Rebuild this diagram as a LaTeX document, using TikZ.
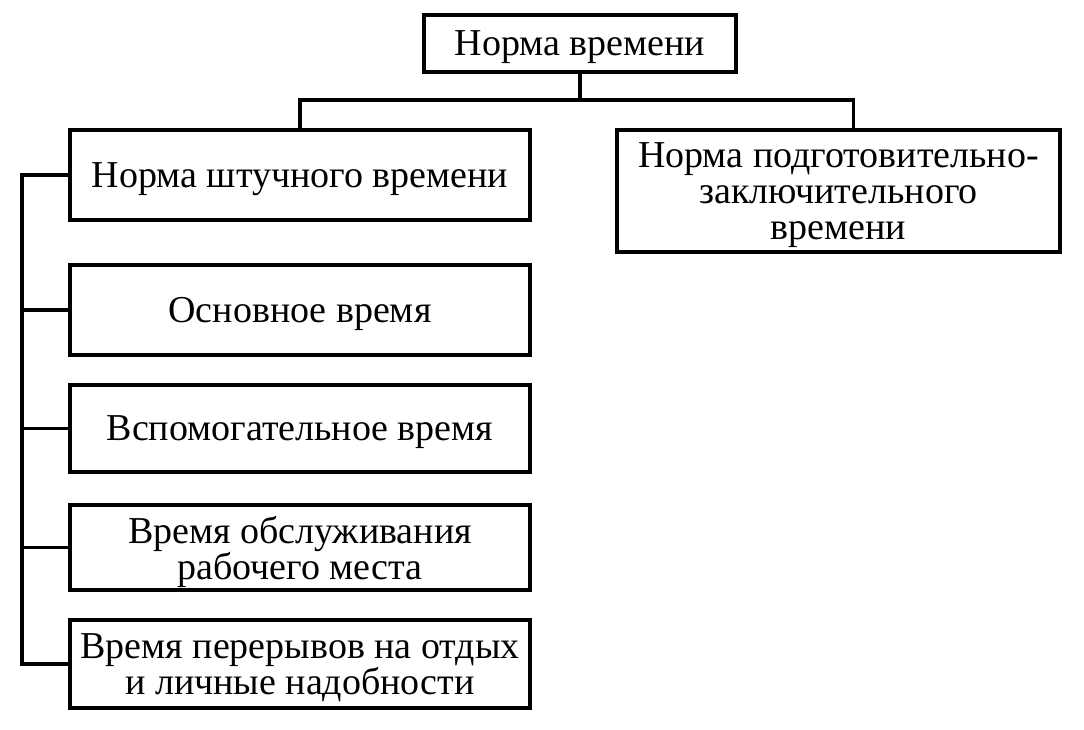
\documentclass[tikz,border=0pt]{standalone}
\usepackage{fontspec}
\setmainfont{Liberation Serif}
\begin{document}
\begin{tikzpicture}[x=1pt,y=-1pt,
  box/.style={draw, line width=3.2pt, align=center, inner sep=0pt, text depth=0pt,
    font=\fontsize{38}{36}\selectfont},
  wire/.style={line width=3.2pt}]
\useasboundingbox (0,0) rectangle (1084,729);
\node[box, minimum width=312pt, minimum height=57pt] (top) at (580,43.5) {Норма времени};
\node[box, minimum width=460pt, minimum height=90pt] (n1) at (300,175) {Норма штучного времени};
\node[box, minimum width=443pt, minimum height=122pt] (r) at (838.5,191) {Норма подготовительно-\\заключительного\\времени};
\node[box, minimum width=460pt, minimum height=90pt] (n2) at (300,310) {Основное время};
\node[box, minimum width=460pt, minimum height=87pt] (n3) at (300,428.5) {Вспомогательное время};
\node[box, minimum width=460pt, minimum height=85pt] (n4) at (300,547.5) {Время обслуживания\\рабочего места};
\node[box, minimum width=460pt, minimum height=88pt] (n5) at (300,664) {Время перерывов на отдых\\и личные надобности};
\coordinate (j) at (580,100);
\coordinate (bus) at (22,0);
\draw[wire] (top.south) -- (j);
\draw[wire] (n1.north) |- (j) -| ([xshift=15pt]r.north);
\draw[wire] (n1.west) -- (n1.west -| bus) -- (n5.west -| bus) -- (n5.west);
\draw[wire] (n2.west) -- (n2.west -| bus);
\draw[wire] (n3.west) -- (n3.west -| bus);
\draw[wire] (n4.west) -- (n4.west -| bus);
\end{tikzpicture}
\end{document}
